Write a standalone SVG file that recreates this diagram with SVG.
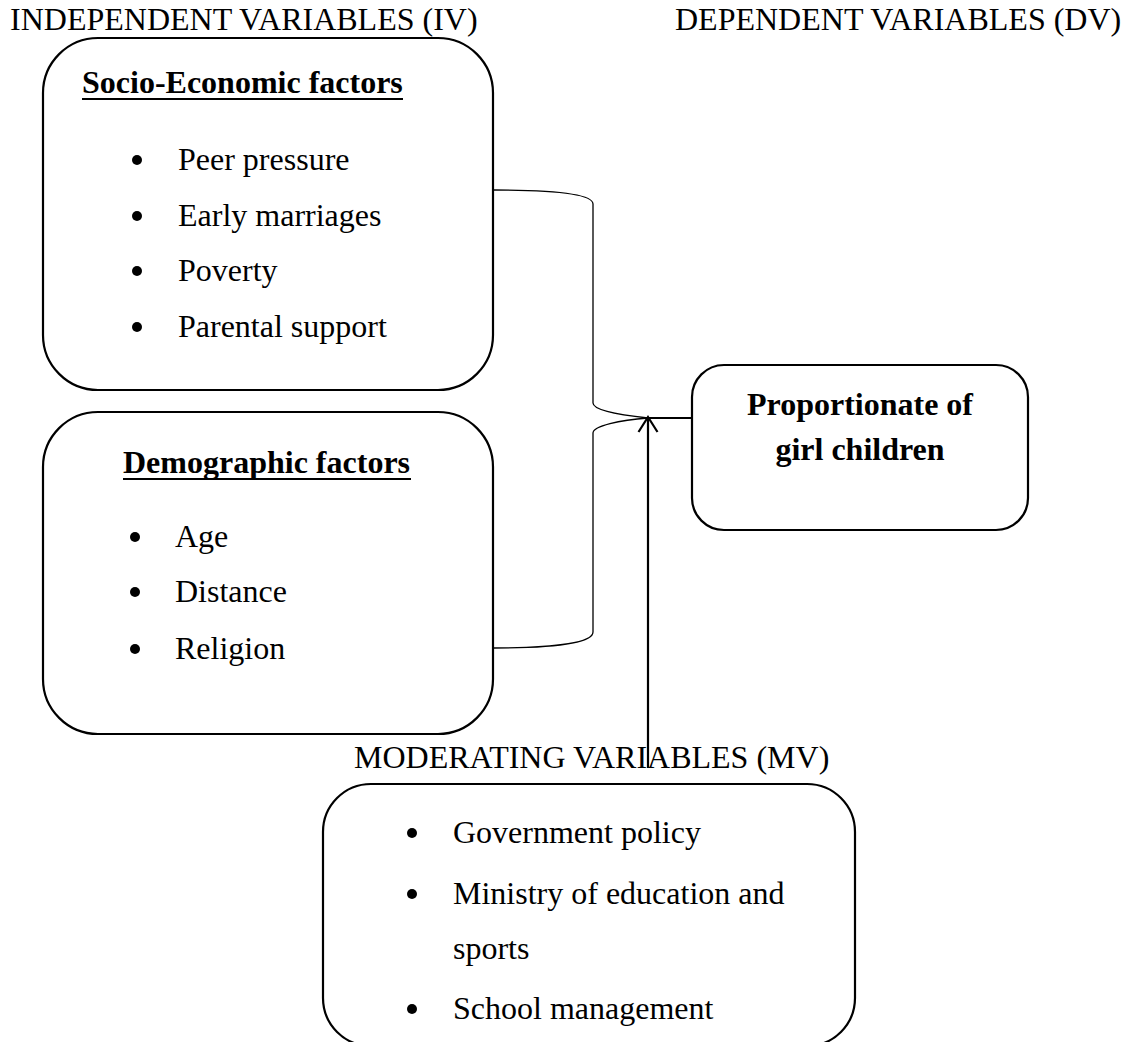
<svg xmlns="http://www.w3.org/2000/svg" width="1133" height="1042" viewBox="0 0 1133 1042">
<style>
text{font-family:"Liberation Serif","Times New Roman",serif;font-size:32px;fill:#000}
.b{font-weight:bold}
.box{fill:#fff;stroke:#000;stroke-width:2.2}
.ul{stroke:#000;stroke-width:2.2}
.dot{fill:#000}
.thin{fill:none;stroke:#000;stroke-width:1.3}
.thick{fill:none;stroke:#000;stroke-width:2.2}
</style>
<rect width="1133" height="1042" fill="#fff"/>
<text x="10" y="30">INDEPENDENT VARIABLES (IV)</text>
<text x="675" y="30">DEPENDENT VARIABLES (DV)</text>

<g id="connectors">
<path class="thin" d="M494,190 C560,190 593,195 593,204 L593,403 C593,410 620,415 648,418"/>
<path class="thin" d="M494,648 C560,648 593,642 593,632 L593,433 C593,426 620,420 648,418"/>
<line class="thick" x1="648" y1="418" x2="692" y2="418"/>
<line class="thick" x1="648" y1="768" x2="648" y2="417"/>
<polyline class="thick" points="638.5,432 648,417 657.5,432"/>
</g>

<g id="socio-economic">
<rect class="box" x="43" y="38" width="450" height="352" rx="55" ry="55"/>
<text class="b" x="82" y="93">Socio-Economic factors</text>
<line class="ul" x1="82" y1="99" x2="403" y2="99"/>
<circle class="dot" cx="137" cy="160" r="5"/>
<text x="178" y="170">Peer pressure</text>
<circle class="dot" cx="137" cy="216" r="5"/>
<text x="178" y="226">Early marriages</text>
<circle class="dot" cx="137" cy="271" r="5"/>
<text x="178" y="281">Poverty</text>
<circle class="dot" cx="137" cy="327" r="5"/>
<text x="178" y="337">Parental support</text>
</g>

<g id="demographic">
<rect class="box" x="43" y="412" width="450" height="322" rx="55" ry="55"/>
<text class="b" x="123" y="473">Demographic factors</text>
<line class="ul" x1="123" y1="479" x2="411" y2="479"/>
<circle class="dot" cx="135" cy="537" r="5"/>
<text x="175" y="547">Age</text>
<circle class="dot" cx="135" cy="592" r="5"/>
<text x="175" y="602">Distance</text>
<circle class="dot" cx="135" cy="649" r="5"/>
<text x="175" y="659">Religion</text>
</g>

<g id="proportionate">
<rect class="box" x="692" y="365" width="336" height="165" rx="32" ry="32"/>
<text class="b" x="860" y="415" text-anchor="middle">Proportionate of</text>
<text class="b" x="860" y="460" text-anchor="middle">girl children</text>
</g>

<g id="moderating">
<text x="354" y="768">MODERATING VARIABLES (MV)</text>
<rect class="box" x="323" y="784" width="532" height="262" rx="48" ry="48"/>
<circle class="dot" cx="412" cy="833" r="5"/>
<text x="453" y="843">Government policy</text>
<circle class="dot" cx="412" cy="894" r="5"/>
<text x="453" y="904">Ministry of education and</text>
<text x="453" y="959">sports</text>
<circle class="dot" cx="412" cy="1009" r="5"/>
<text x="453" y="1019">School management</text>
</g>
</svg>
